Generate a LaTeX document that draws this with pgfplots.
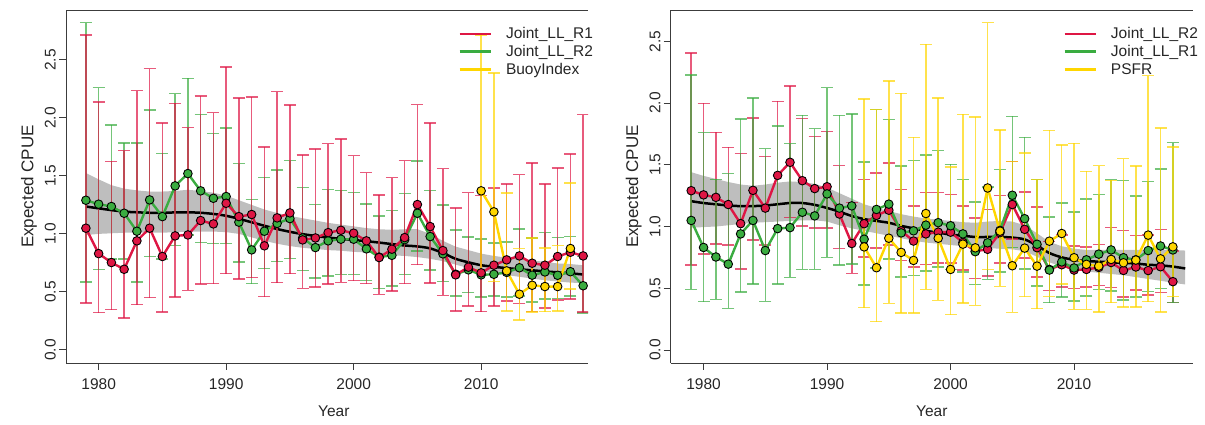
\documentclass[border=0pt]{standalone}
\usepackage{fontspec}
\setmainfont{Liberation Sans}
\usepackage{pgfplots}
\usepackage{pgfplotstable}
\pgfplotsset{compat=1.18}

\definecolor{cpred}{RGB}{222,22,68}
\definecolor{cpgreen}{RGB}{58,172,64}
\definecolor{cpyellow}{RGB}{255,214,0}
\definecolor{bandgray}{RGB}{190,190,190}
\definecolor{axisgray}{RGB}{60,60,60}
\newcommand{\cpuefont}{\fontsize{15.5}{18}\selectfont}
\newcommand{\ylabfont}{\fontsize{17}{20}\selectfont}
\newcommand{\legstrut}{\rule[-3.5pt]{0pt}{15pt}}

% ---------- left panel: Joint_LL_R1, Joint_LL_R2, BuoyIndex ----------
\pgfplotstableread{
year m lo hi
1979 1.049 0.404 2.713
1980 0.830 0.322 2.138
1981 0.753 0.348 1.624
1982 0.695 0.276 1.718
1983 0.940 0.391 2.236
1984 1.049 0.451 2.425
1985 0.805 0.328 1.957
1986 0.983 0.454 2.124
1987 0.991 0.512 1.917
1988 1.115 0.566 2.187
1989 1.086 0.572 2.046
1990 1.264 0.658 2.437
1991 1.149 0.609 2.170
1992 1.167 0.624 2.178
1993 0.897 0.460 1.750
1994 1.138 0.580 2.227
1995 1.181 0.658 2.109
1996 0.948 0.530 1.681
1997 0.965 0.540 1.733
1998 1.011 0.569 1.779
1999 1.031 0.583 1.819
2000 1.006 0.598 1.675
2001 0.940 0.572 1.529
2002 0.796 0.478 1.336
2003 0.868 0.509 1.486
2004 0.968 0.572 1.632
2005 1.253 0.736 2.115
2006 1.063 0.575 1.954
2007 0.856 0.469 1.563
2008 0.647 0.336 1.224
2009 0.713 0.379 1.356
2010 0.664 0.330 1.330
2011 0.730 0.379 1.394
2012 0.776 0.422 1.428
2013 0.810 0.400 1.511
2014 0.747 0.330 1.609
2015 0.730 0.360 1.428
2016 0.805 0.431 1.569
2017 0.842 0.440 1.687
2018 0.810 0.327 2.029
}\leftRone

\pgfplotstableread{
year m lo hi
1979 1.290 0.586 2.822
1980 1.256 0.692 2.261
1981 1.236 0.784 1.937
1982 1.178 0.784 1.784
1983 1.023 0.586 1.784
1984 1.293 0.805 2.069
1985 1.149 0.784 1.695
1986 1.414 0.902 2.210
1987 1.520 0.990 2.340
1988 1.371 0.925 2.029
1989 1.307 0.917 1.865
1990 1.322 0.917 1.911
1991 1.101 0.758 1.606
1992 0.862 0.571 1.296
1993 1.023 0.700 1.488
1994 1.090 0.760 1.549
1995 1.132 0.787 1.632
1996 0.965 0.684 1.399
1997 0.882 0.618 1.253
1998 0.940 0.635 1.382
1999 0.954 0.652 1.376
2000 0.954 0.652 1.356
2001 0.871 0.600 1.256
2002 0.800 0.529 1.155
2003 0.815 0.552 1.201
2004 0.950 0.652 1.348
2005 1.178 0.852 1.629
2006 0.977 0.690 1.376
2007 0.828 0.590 1.247
2008 0.652 0.465 1.034
2009 0.690 0.494 0.971
2010 0.647 0.454 0.954
2011 0.652 0.465 0.920
2012 0.668 0.454 0.931
2013 0.708 0.465 1.043
2014 0.644 0.414 0.963
2015 0.672 0.437 1.011
2016 0.643 0.445 0.968
2017 0.674 0.465 0.977
2018 0.553 0.316 0.805
}\leftRtwo

\pgfplotstableread{
year m lo hi
2010 1.371 0.690 2.716
2011 1.190 0.590 2.385
2012 0.681 0.336 1.351
2013 0.480 0.259 0.874
2014 0.557 0.327 0.963
2015 0.546 0.330 0.879
2016 0.546 0.336 0.902
2017 0.874 0.525 1.440
}\leftBuoy

% loess fit of the left panel
\pgfplotstableread{
year fit
1979 1.236
1980 1.220
1981 1.205
1982 1.192
1983 1.186
1984 1.182
1985 1.182
1986 1.185
1987 1.186
1988 1.182
1989 1.172
1990 1.156
1991 1.130
1992 1.100
1993 1.070
1994 1.042
1995 1.018
1996 0.998
1997 0.982
1998 0.968
1999 0.957
2000 0.947
2001 0.937
2002 0.925
2003 0.912
2004 0.900
2005 0.892
2006 0.875
2007 0.835
2008 0.785
2009 0.755
2010 0.730
2011 0.716
2012 0.705
2013 0.695
2014 0.686
2015 0.677
2016 0.668
2017 0.660
2018 0.650
}\leftFit

% its confidence band: upper edge forward, lower edge backward
\pgfplotstableread{
year band
1979 1.525
1980 1.470
1981 1.420
1982 1.390
1983 1.375
1984 1.365
1985 1.365
1986 1.370
1987 1.380
1988 1.370
1989 1.355
1990 1.330
1991 1.290
1992 1.250
1993 1.210
1994 1.180
1995 1.155
1996 1.135
1997 1.115
1998 1.095
1999 1.080
2000 1.065
2001 1.050
2002 1.040
2003 1.035
2004 1.040
2005 1.040
2006 1.000
2007 0.940
2008 0.890
2009 0.860
2010 0.830
2011 0.810
2012 0.795
2013 0.780
2014 0.770
2015 0.760
2016 0.745
2017 0.740
2018 0.730
2018 0.575
2017 0.580
2016 0.590
2015 0.600
2014 0.615
2013 0.630
2012 0.645
2011 0.660
2010 0.680
2009 0.705
2008 0.735
2007 0.765
2006 0.785
2005 0.800
2004 0.810
2003 0.815
2002 0.830
2001 0.840
2000 0.845
1999 0.855
1998 0.860
1997 0.870
1996 0.880
1995 0.895
1994 0.915
1993 0.940
1992 0.970
1991 1.000
1990 1.015
1989 1.020
1988 1.020
1987 1.020
1986 1.015
1985 1.010
1984 1.010
1983 1.010
1982 1.010
1981 1.005
1980 1.000
1979 0.990
}\leftBand

% ---------- right panel: Joint_LL_R2, Joint_LL_R1, PSFR ----------
\pgfplotstableread{
year m lo hi
1979 1.290 0.687 2.404
1980 1.256 0.779 1.997
1981 1.236 0.860 1.762
1982 1.178 0.849 1.641
1983 1.023 0.655 1.593
1984 1.293 0.889 1.877
1985 1.149 0.849 1.569
1986 1.414 0.983 2.013
1987 1.520 1.071 2.140
1988 1.371 1.003 1.876
1989 1.307 0.986 1.730
1990 1.322 0.986 1.770
1991 1.101 0.822 1.494
1992 0.862 0.620 1.196
1993 1.023 0.752 1.380
1994 1.090 0.827 1.435
1995 1.132 0.852 1.516
1996 0.965 0.725 1.301
1997 0.882 0.671 1.164
1998 0.940 0.692 1.277
1999 0.954 0.706 1.275
2000 0.954 0.706 1.261
2001 0.871 0.647 1.164
2002 0.800 0.577 1.067
2003 0.815 0.598 1.137
2004 0.950 0.706 1.253
2005 1.178 0.900 1.528
2006 0.977 0.746 1.280
2007 0.828 0.589 1.156
2008 0.652 0.483 0.880
2009 0.690 0.511 0.932
2010 0.647 0.498 0.841
2011 0.652 0.509 0.835
2012 0.668 0.522 0.855
2013 0.708 0.506 0.991
2014 0.644 0.429 0.966
2015 0.672 0.487 0.927
2016 0.643 0.443 0.932
2017 0.674 0.465 0.977
2018 0.553 0.383 0.800
}\rightRtwo

\pgfplotstableread{
year m lo hi
1979 1.049 0.490 2.229
1980 0.830 0.391 1.760
1981 0.753 0.410 1.382
1982 0.695 0.337 1.428
1983 0.940 0.469 1.870
1984 1.049 0.534 2.040
1985 0.805 0.393 1.630
1986 0.983 0.534 1.814
1987 0.991 0.588 1.671
1988 1.115 0.652 1.900
1989 1.086 0.652 1.792
1990 1.264 0.749 2.126
1991 1.149 0.687 1.900
1992 1.167 0.698 1.911
1993 0.897 0.526 1.523
1994 1.138 0.665 1.946
1995 1.181 0.738 1.868
1996 0.948 0.590 1.490
1997 0.965 0.604 1.536
1998 1.011 0.639 1.579
1999 1.031 0.670 1.614
2000 1.006 0.650 1.504
2001 0.940 0.631 1.380
2002 0.796 0.531 1.199
2003 0.868 0.571 1.320
2004 0.968 0.633 1.461
2005 1.253 0.830 1.892
2006 1.063 0.656 1.722
2007 0.856 0.517 1.380
2008 0.647 0.383 1.075
2009 0.713 0.427 1.191
2010 0.664 0.396 1.116
2011 0.730 0.437 1.223
2012 0.776 0.490 1.258
2013 0.810 0.477 1.380
2014 0.747 0.406 1.374
2015 0.730 0.428 1.245
2016 0.805 0.474 1.366
2017 0.842 0.499 1.466
2018 0.810 0.383 1.679
}\rightRone

\pgfplotstableread{
year m lo hi
1993 0.835 0.342 2.032
1994 0.666 0.229 1.946
1995 0.905 0.377 2.180
1996 0.790 0.299 2.078
1997 0.725 0.299 1.722
1998 1.105 0.491 2.476
1999 0.905 0.402 2.040
2000 0.652 0.286 1.482
2001 0.857 0.380 1.908
2002 0.827 0.361 1.886
2003 1.312 0.652 2.652
2004 0.962 0.515 1.781
2005 0.682 0.305 1.525
2006 0.825 0.431 1.595
2007 0.679 0.334 1.380
2008 0.881 0.431 1.779
2009 0.943 0.536 1.660
2010 0.747 0.329 1.673
2011 0.693 0.329 1.447
2012 0.679 0.307 1.493
2013 0.733 0.383 1.374
2014 0.706 0.348 1.549
2015 0.728 0.348 1.490
2016 0.930 0.391 2.223
2017 0.738 0.307 1.797
2018 0.835 0.431 1.644
}\rightPSFR

% loess fit of the right panel
\pgfplotstableread{
year fit
1979 1.205
1980 1.190
1981 1.180
1982 1.170
1983 1.165
1984 1.165
1985 1.170
1986 1.180
1987 1.190
1988 1.190
1989 1.175
1990 1.150
1991 1.120
1992 1.085
1993 1.060
1994 1.045
1995 1.030
1996 1.005
1997 0.985
1998 0.965
1999 0.950
2000 0.935
2001 0.925
2002 0.915
2003 0.915
2004 0.915
2005 0.910
2006 0.895
2007 0.845
2008 0.785
2009 0.750
2010 0.730
2011 0.720
2012 0.715
2013 0.710
2014 0.705
2015 0.700
2016 0.690
2017 0.685
2018 0.675
2019 0.660
}\rightFit

\pgfplotstableread{
year band
1979 1.440
1980 1.410
1981 1.385
1982 1.360
1983 1.340
1984 1.330
1985 1.340
1986 1.355
1987 1.365
1988 1.360
1989 1.345
1990 1.315
1991 1.270
1992 1.225
1993 1.180
1994 1.150
1995 1.125
1996 1.100
1997 1.080
1998 1.065
1999 1.055
2000 1.045
2001 1.035
2002 1.030
2003 1.040
2004 1.045
2005 1.040
2006 1.010
2007 0.945
2008 0.875
2009 0.840
2010 0.820
2011 0.810
2012 0.810
2013 0.810
2014 0.810
2015 0.810
2016 0.810
2017 0.810
2018 0.810
2019 0.805
2019 0.530
2018 0.545
2017 0.560
2016 0.575
2015 0.590
2014 0.605
2013 0.615
2012 0.625
2011 0.635
2010 0.650
2009 0.675
2008 0.710
2007 0.755
2006 0.800
2005 0.815
2004 0.820
2003 0.825
2002 0.830
2001 0.840
2000 0.850
1999 0.860
1998 0.870
1997 0.885
1996 0.905
1995 0.925
1994 0.945
1993 0.965
1992 0.985
1991 1.010
1990 1.040
1989 1.050
1988 1.050
1987 1.045
1986 1.040
1985 1.035
1984 1.030
1983 1.020
1982 1.010
1981 1.000
1980 0.995
1979 0.990
}\rightBand

\pgfplotsset{
  cpuepanel/.style={
    scale only axis, height=353pt,
    ymin=-0.113, ymax=2.93,
    axis x line*=box, axis y line*=left,
    axis line style={axisgray, line width=0.8pt},
    tick style={axisgray, line width=0.8pt},
    tick align=outside, major tick length=7pt,
    xtick pos=bottom, ytick pos=left,
    xtick={1980,1990,2000,2010},
    xticklabels={1980,1990,2000,2010},
    ytick={0,0.5,1,1.5,2,2.5},
    yticklabels={0.0,0.5,1.0,1.5,2.0,2.5},
    tick label style={font=\cpuefont, text=black!85},
    xticklabel style={anchor=north, inner sep=0pt, yshift=-8pt},
    yticklabel style={xshift=-3pt, rotate=90, anchor=south, inner sep=0pt},
    xlabel={Year}, ylabel={Expected CPUE},
    every axis x label/.style={at={(axis description cs:0.5,0)}, anchor=center,
      yshift=-48pt, font=\cpuefont, text=black!85},
    every axis y label/.style={at={(axis description cs:-0.0709,0.5)}, anchor=center,
      rotate=90, font=\ylabfont, text=black!85},
    legend image code/.code={\draw[##1] (0pt,0pt) -- (31pt,0pt);},
    legend cell align=left,
    legend style={draw=none, fill=none, font=\cpuefont, inner sep=0pt,
      row sep=4.8pt, anchor=north west,
      nodes={inner sep=0pt, text=black!85},
      /tikz/every odd column/.append style={column sep=14pt}},
  },
  errbar/.style={forget plot, draw=none, mark=none,
    error bars/.cd, y dir=both, y explicit,
    error bar style={line width=1.5pt, draw=#1, opacity=0.7},
    error mark options={rotate=90, draw=#1, line width=1.5pt, mark size=6pt, opacity=0.7}},
  series/.style={forget plot, #1, line width=2.4pt, mark=*, mark size=4.3pt,
    mark options={fill=#1, draw=black, line width=0.9pt, solid}},
}

\begin{document}
\begin{tikzpicture}
% page frame
\path (0pt,0pt) rectangle (1205pt,425pt);

% left panel
\begin{axis}[cpuepanel,
  at={(66pt,62pt)}, anchor=south west,
  width=522pt, xmin=1977.44, xmax=2018.38,
  every axis x label/.append style={at={(axis description cs:0.513,0)}},
  legend style={at={(axis description cs:0.751,0.951)}}]
  \addplot[fill=bandgray, draw=none, forget plot] table[x=year,y=band]{\leftBand};
  \addplot[black, line width=2.5pt, smooth, forget plot] table[x=year,y=fit]{\leftFit};

  \addplot[errbar=cpgreen] table[x=year, y=m,
    y error plus expr=\thisrow{hi}-\thisrow{m},
    y error minus expr=\thisrow{m}-\thisrow{lo}]{\leftRtwo};
  \addplot[errbar=cpred] table[x=year, y=m,
    y error plus expr=\thisrow{hi}-\thisrow{m},
    y error minus expr=\thisrow{m}-\thisrow{lo}]{\leftRone};
  \addplot[errbar=cpyellow] table[x=year, y=m,
    y error plus expr=\thisrow{hi}-\thisrow{m},
    y error minus expr=\thisrow{m}-\thisrow{lo}]{\leftBuoy};

  \addplot[series=cpgreen] table[x=year,y=m]{\leftRtwo};
  \addplot[series=cpred] table[x=year,y=m]{\leftRone};
  \addplot[series=cpyellow] table[x=year,y=m]{\leftBuoy};

  \addlegendimage{cpred, line width=2.8pt}
  \addlegendentry{\legstrut Joint\_LL\_R1}
  \addlegendimage{cpgreen, line width=2.8pt}
  \addlegendentry{\legstrut Joint\_LL\_R2}
  \addlegendimage{cpyellow, line width=2.8pt}
  \addlegendentry{\legstrut BuoyIndex}
\end{axis}

% right panel
\begin{axis}[cpuepanel,
  at={(670.7pt,62pt)}, anchor=south west,
  width=522.3pt, xmin=1977.34, xmax=2019.63,
  ymin=-0.106, ymax=2.754,
  legend style={at={(axis description cs:0.751,0.951)}}]
  \addplot[fill=bandgray, draw=none, forget plot] table[x=year,y=band]{\rightBand};
  \addplot[black, line width=2.5pt, smooth, forget plot] table[x=year,y=fit]{\rightFit};

  \addplot[errbar=cpred] table[x=year, y=m,
    y error plus expr=\thisrow{hi}-\thisrow{m},
    y error minus expr=\thisrow{m}-\thisrow{lo}]{\rightRtwo};
  \addplot[errbar=cpgreen] table[x=year, y=m,
    y error plus expr=\thisrow{hi}-\thisrow{m},
    y error minus expr=\thisrow{m}-\thisrow{lo}]{\rightRone};
  \addplot[errbar=cpyellow] table[x=year, y=m,
    y error plus expr=\thisrow{hi}-\thisrow{m},
    y error minus expr=\thisrow{m}-\thisrow{lo}]{\rightPSFR};

  \addplot[series=cpred] table[x=year,y=m]{\rightRtwo};
  \addplot[series=cpgreen] table[x=year,y=m]{\rightRone};
  \addplot[series=cpyellow] table[x=year,y=m]{\rightPSFR};

  \addlegendimage{cpred, line width=2.8pt}
  \addlegendentry{\legstrut Joint\_LL\_R2}
  \addlegendimage{cpgreen, line width=2.8pt}
  \addlegendentry{\legstrut Joint\_LL\_R1}
  \addlegendimage{cpyellow, line width=2.8pt}
  \addlegendentry{\legstrut PSFR}
\end{axis}
\end{tikzpicture}
\end{document}
